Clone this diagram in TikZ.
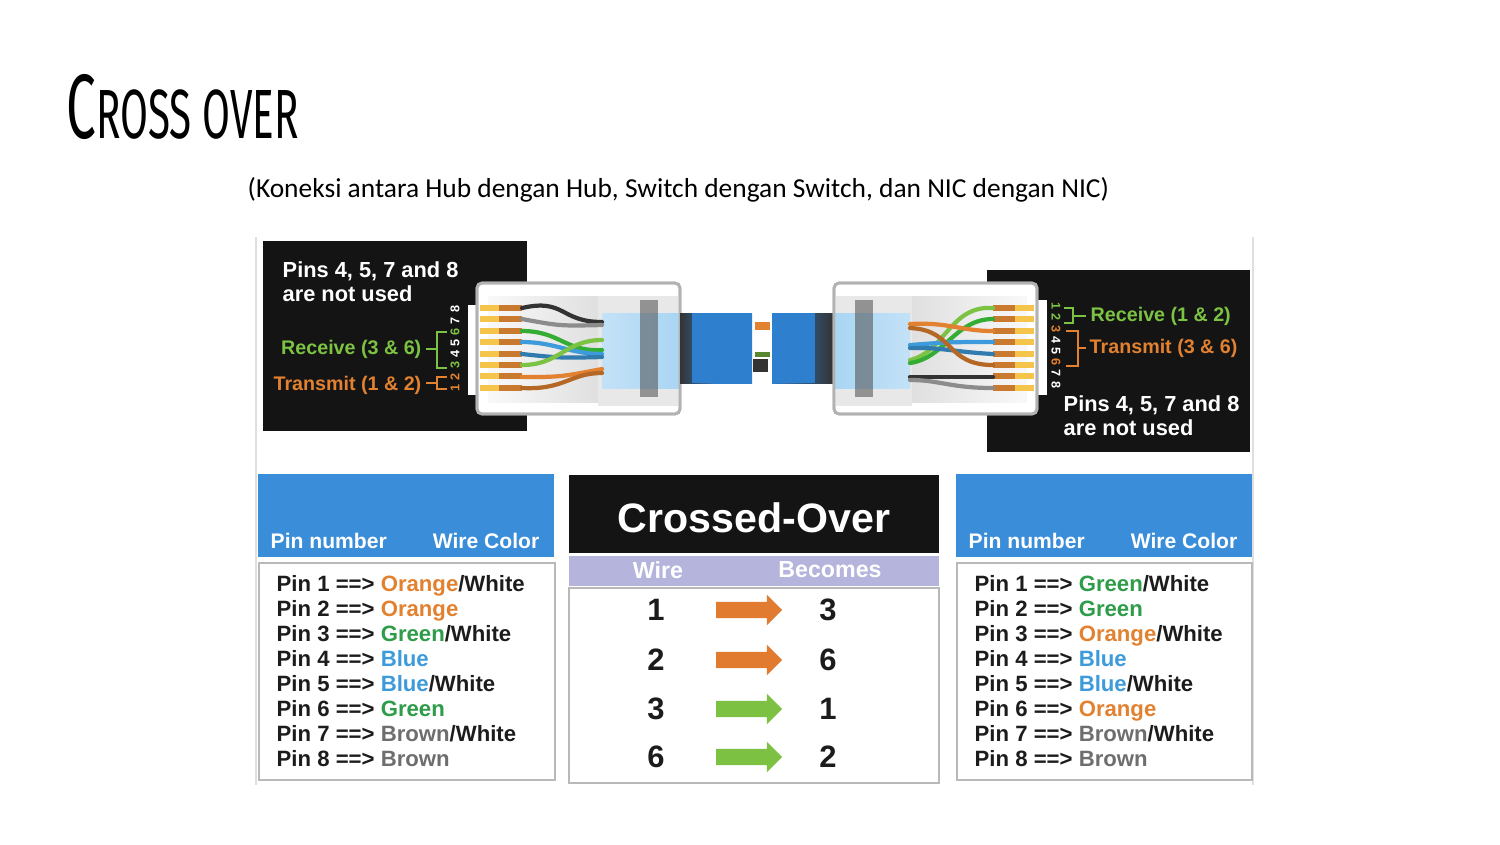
\documentclass[tikz,border=0pt]{standalone}
\usepackage{fontspec}
\setmainfont{Liberation Sans}
\newfontfamily\subfont{Carlito}
\newfontfamily\titlefont{Fira Sans}
\usetikzlibrary{shapes.arrows}

\definecolor{hdblue}{HTML}{3A8DD8}
\definecolor{txo}{HTML}{E2812F}
\definecolor{txg}{HTML}{2E9C48}
\definecolor{txb}{HTML}{3D9BDB}
\definecolor{txbr}{HTML}{6E6E6E}
\definecolor{ink}{HTML}{1C1C1C}
\definecolor{rxgreen}{HTML}{7CC243}
\definecolor{lav}{HTML}{B4B4DC}
\definecolor{cable}{HTML}{2E80CF}
\definecolor{pale}{HTML}{A9D5F3}
\definecolor{pinyel}{HTML}{F4C54A}
\definecolor{pinorg}{HTML}{C97A2E}
\definecolor{arrorg}{HTML}{E07B30}
\definecolor{arrgrn}{HTML}{7DC142}

\tikzset{
  lbl/.style={inner sep=0pt, font=\bfseries\fontsize{6.3}{7}\selectfont, text=ink},
  hdr/.style={inner sep=0pt, font=\bfseries\fontsize{6}{7}\selectfont, text=white},
  num/.style={inner sep=0pt, font=\bfseries\fontsize{8.8}{9}\selectfont, text=ink},
  tag/.style={inner sep=0pt, font=\bfseries\fontsize{5.6}{6}\selectfont},
  digit/.style={inner sep=0pt, font=\bfseries\fontsize{3.6}{4}\selectfont},
  wire/.style={line width=1.2pt, line cap=round},
  swap/.style={single arrow, draw=none, fill=#1, minimum height=0.66cm,
    text height=0.15cm, text depth=0cm, text width=0cm,
    single arrow head extend=0.07cm, inner sep=0pt}
}

\begin{document}
\begin{tikzpicture}[x=0.01cm,y=-0.01cm]
\useasboundingbox (0,0) rectangle (1500,844);

% title and subtitle
\node[anchor=base west, inner sep=0pt] (title) at (66,138)
  {\titlefont\scalebox{0.58}[1]{\fontsize{26}{26}\selectfont C\fontsize{19.8}{20}\selectfont ROSS OVER}};
\node[anchor=base west, inner sep=0pt] (sub) at (247,197)
  {\subfont\fontsize{7.8}{9}\selectfont (Koneksi antara Hub dengan Hub, Switch dengan Switch, dan NIC dengan NIC)};

% frame of the picture
\draw[gray!25, line width=0.4pt] (256,237) -- (256,785);
\draw[gray!25, line width=0.4pt] (1253,237) -- (1253,785);

% black panels
\fill[black!92] (263,241) rectangle (527,431);
\fill[black!92] (987,270) rectangle (1250,452);

% left plug
\fill[white] (468,305) rectangle (480,395);
\draw[gray!60, line width=0.8pt, fill=white, rounded corners=0.05cm] (477,283) rectangle (680,414);
\shade[left color=gray!5, right color=gray!25] (488,296) rectangle (600,402);
\fill[gray!18] (598,296) rectangle (680,406);
\shade[left color=pale!70, right color=pale] (602,313) rectangle (680,388);
\fill[black!70, opacity=0.55] (640,300) rectangle (658,397);
\foreach \k in {0,...,7}{
  \fill[pinyel] (480,{308+11.4*\k-3}) rectangle (499,{308+11.4*\k+3});
  \fill[pinorg] (499,{308+11.4*\k-3}) rectangle (522,{308+11.4*\k+3});
}
\draw[wire, black!80] (522,308) .. controls (565,298) and (560,322) .. (602,322);
\draw[wire, black!45] (522,319) .. controls (560,326) .. (602,325);
\draw[wire, green!60!black!80] (522,331) .. controls (560,331) and (565,352) .. (602,350);
\draw[wire, txb] (522,342) .. controls (555,342) and (570,354) .. (602,354);
\draw[wire, txb!80!black] (522,354) .. controls (560,358) .. (602,357);
\draw[wire, rxgreen] (522,365) .. controls (560,365) and (565,340) .. (602,340);
\draw[wire, txo] (522,377) .. controls (560,377) .. (602,369);
\draw[wire, txo!80!black] (522,388) .. controls (565,390) and (570,373) .. (602,373);
\draw[gray!60, line width=0.8pt, rounded corners=0.05cm] (477,283) rectangle (680,414);

% cable
\shade[left color=black!80, right color=cable, middle color=cable] (680,313) rectangle (752,383);
\fill[cable] (692,313) rectangle (752,383);
\shade[left color=cable, right color=black!80] (772,313) rectangle (834,383);
\fill[cable] (772,313) rectangle (815,383);
\fill[white] (753,331) rectangle (771,356);
\fill[txo] (755,322) rectangle (770,330);
\fill[rxgreen!70!black] (755,352) rectangle (770,357);
\fill[black!80] (753,359) rectangle (768,372);

% right plug
\fill[white] (1035,300) rectangle (1047,395);
\draw[gray!60, line width=0.8pt, fill=white, rounded corners=0.05cm] (834,283) rectangle (1037,414);
\shade[left color=gray!25, right color=gray!5] (910,296) rectangle (1027,402);
\fill[gray!18] (834,296) rectangle (912,406);
\shade[left color=pale, right color=pale!70] (834,313) rectangle (910,388);
\fill[black!70, opacity=0.55] (855,300) rectangle (873,397);
\foreach \k in {0,...,7}{
  \fill[pinorg] (993,{308+11.4*\k-3}) rectangle (1015,{308+11.4*\k+3});
  \fill[pinyel] (1015,{308+11.4*\k-3}) rectangle (1034,{308+11.4*\k+3});
}
\draw[wire, rxgreen] (993,308) .. controls (950,305) and (945,352) .. (910,360);
\draw[wire, green!60!black!80] (993,319) .. controls (955,319) and (945,358) .. (910,363);
\draw[wire, txo] (993,331) .. controls (960,331) and (950,322) .. (910,324);
\draw[wire, txb] (993,342) .. controls (950,342) .. (910,345);
\draw[wire, txb!80!black] (993,354) .. controls (955,352) and (940,347) .. (910,348);
\draw[wire, txo!80!black] (993,365) .. controls (945,365) and (955,330) .. (910,328);
\draw[wire, black!80] (993,377) .. controls (950,377) .. (910,377);
\draw[wire, black!45] (993,388) .. controls (950,388) and (940,380) .. (910,380);
\draw[gray!60, line width=0.8pt, rounded corners=0.05cm] (834,283) rectangle (1037,414);

% left panel texts
\node[tag, text=white, align=left, anchor=west, font=\bfseries\fontsize{6.2}{6.9}\selectfont] (unusedl) at (282,282)
  {Pins 4, 5, 7 and 8\\are not used};
\node[tag, text=rxgreen, anchor=east] (rxl) at (422,349) {Receive (3 \& 6)};
\node[tag, text=txo, anchor=east] (txl) at (422,385) {Transmit (1 \& 2)};
\foreach \d/\c in {1/txo,2/txo,3/rxgreen,4/white,5/white,6/rxgreen,7/white,8/white}
  \node[digit, text=\c, rotate=90] (dl\d) at (455,{399-11.2*\d}) {\d};
\draw[rxgreen, line width=0.5pt] (447,332) -- (437,332) -- (437,368) -- (447,368);
\draw[rxgreen, line width=0.5pt] (rxl.east) ++(4,0) -- (437,349);
\draw[txo, line width=0.5pt] (447,377) -- (437,377) -- (437,389) -- (447,389);
\draw[txo, line width=0.5pt] (txl.east) ++(4,-2) -- (437,383);

% right panel texts
\node[tag, text=white, align=left, anchor=west, font=\bfseries\fontsize{6.2}{6.9}\selectfont] (unusedr) at (1063,416)
  {Pins 4, 5, 7 and 8\\are not used};
\node[tag, text=rxgreen, anchor=west] (rxr) at (1090,316) {Receive (1 \& 2)};
\node[tag, text=txo, anchor=west] (txr) at (1089,348) {Transmit (3 \& 6)};
\foreach \d/\c in {1/rxgreen,2/rxgreen,3/txo,4/white,5/white,6/txo,7/white,8/white}
  \node[digit, text=\c, rotate=-90] (dr\d) at (1056,{295+11.2*\d}) {\d};
\draw[rxgreen, line width=0.5pt] (1064,308) -- (1073,308) -- (1073,323) -- (1064,323);
\draw[rxgreen, line width=0.5pt] (1073,316) -- ([xshift=-0.04cm]rxr.west);
\draw[txo, line width=0.5pt] (1066,331) -- (1078,331) -- (1078,366) -- (1066,366);
\draw[txo, line width=0.5pt] (1078,348) -- ([xshift=-0.03cm]txr.west);

% left table
\fill[hdblue] (258,474) rectangle (554,557);
\node[hdr, anchor=west] (pnl) at (270,541) {Pin number};
\node[hdr, anchor=east] (wcl) at (540,541) {Wire Color};
\draw[gray!55, line width=0.6pt, fill=white] (259,563) rectangle (555,780);
\foreach \c/\w/\s [count=\n] in {txo/Orange/1, txo/Orange/0, txg/Green/1, txb/Blue/0,
    txb/Blue/1, txg/Green/0, txbr/Brown/1, txbr/Brown/0}
  \node[lbl, anchor=base west] (lp\n) at (276,{591+25*(\n-1)})
    {Pin \n{} ==> \textcolor{\c}{\w}\ifnum\s=1 /White\fi};

% middle table
\fill[black!92] (569,475) rectangle (939,553);
\node[inner sep=0pt, text=white, font=\bfseries\fontsize{11.7}{12}\selectfont] (xo) at (754,518) {Crossed-Over};
\fill[lav] (569,556) rectangle (939,586);
\node[hdr, font=\bfseries\fontsize{6.6}{7}\selectfont] (wire) at (658,570) {Wire};
\node[hdr, font=\bfseries\fontsize{6.6}{7}\selectfont] (becomes) at (830,570) {Becomes};
\draw[gray!55, line width=0.6pt, fill=white] (569,588) rectangle (939,783);
\foreach \a/\b/\c/\y [count=\r] in {1/3/arrorg/610, 2/6/arrorg/660, 3/1/arrgrn/709, 6/2/arrgrn/757}{
  \node[num] (w\r) at (656,\y) {\a};
  \node[swap=\c] (ar\r) at (745,\y) {};
  \node[num] (b\r) at (828,\y) {\b};
}

% right table
\fill[hdblue] (956,474) rectangle (1252,557);
\node[hdr, anchor=west] (pnr) at (968,541) {Pin number};
\node[hdr, anchor=east] (wcr) at (1238,541) {Wire Color};
\draw[gray!55, line width=0.6pt, fill=white] (957,563) rectangle (1252,780);
\foreach \c/\w/\s [count=\n] in {txg/Green/1, txg/Green/0, txo/Orange/1, txb/Blue/0,
    txb/Blue/1, txo/Orange/0, txbr/Brown/1, txbr/Brown/0}
  \node[lbl, anchor=base west] (rp\n) at (974,{591+25*(\n-1)})
    {Pin \n{} ==> \textcolor{\c}{\w}\ifnum\s=1 /White\fi};
\end{tikzpicture}
\end{document}
